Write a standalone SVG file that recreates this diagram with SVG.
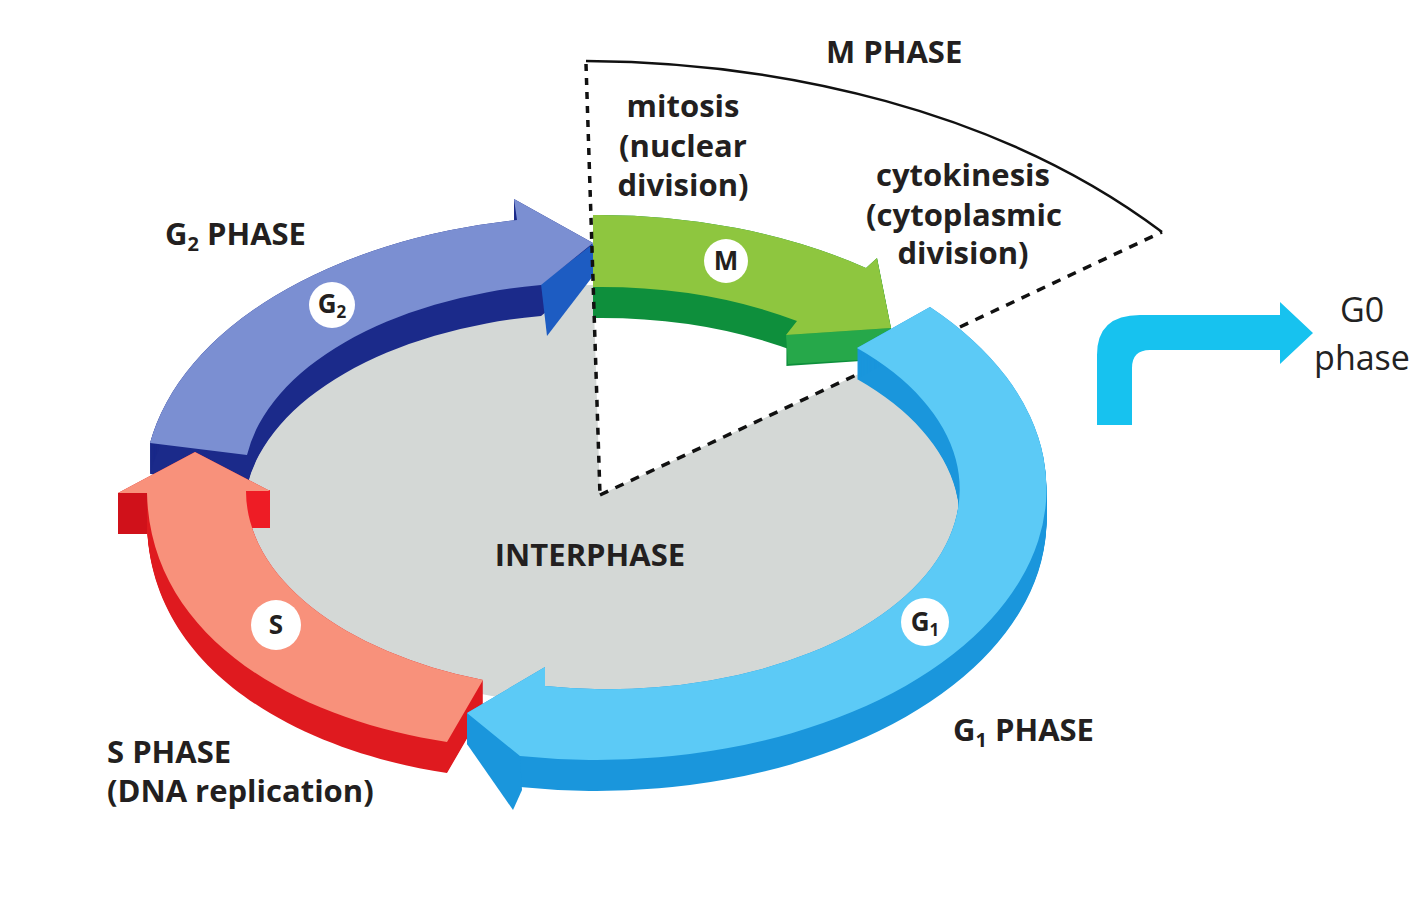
<svg xmlns="http://www.w3.org/2000/svg" width="1428" height="906" viewBox="0 0 1428 906">
<style>
.lbl{font-family:"Open Sans","Liberation Sans",sans-serif;font-weight:700;font-size:31px;fill:#231f20}
.mid{text-anchor:middle}
.badge{fill:#fff}
.btxt{font-family:"Open Sans","Liberation Sans",sans-serif;font-weight:700;font-size:26px;fill:#231f20;text-anchor:middle}
.g0t{font-family:"Open Sans","Liberation Sans",sans-serif;font-size:34px;fill:#222;text-anchor:middle}
.dash{fill:none;stroke:#111;stroke-width:3.5}
</style>
<defs>
<path id="g2p" d="M150,443 A450,271 0 0 1 517,220 L514,199 L593,243 L541,285 A352,200 0 0 0 247,455 Z"/>
<path id="mp" d="M593,215 A450,271 0 0 1 866,268 L877,258 L891,328 L786,335 L797,321 A352,200 0 0 0 593,287 Z"/>
<path id="sp" d="M195,452 L270,491 L246,491 A352,200 0 0 0 483,680 L447,742 C300,720 150,640 147,493 L118,493 Z"/>
<path id="g1p" d="M930,307 A450,271 0 0 1 520,756 L467,713 L545,667 L545,686 A352,200 0 0 0 857,348 Z"/>
<g id="g2e1"><use href="#g2p"/><use href="#g2p" y="1"/></g>
<g id="g2e2"><use href="#g2e1"/><use href="#g2e1" y="2"/></g>
<g id="g2e4"><use href="#g2e2"/><use href="#g2e2" y="4"/></g>
<g id="g2e8"><use href="#g2e4"/><use href="#g2e4" y="8"/></g>
<g id="g2e16"><use href="#g2e8"/><use href="#g2e8" y="16"/></g>
<g id="me1"><use href="#mp"/><use href="#mp" y="1"/></g>
<g id="me2"><use href="#me1"/><use href="#me1" y="2"/></g>
<g id="me4"><use href="#me2"/><use href="#me2" y="4"/></g>
<g id="me8"><use href="#me4"/><use href="#me4" y="8"/></g>
<g id="me16"><use href="#me8"/><use href="#me8" y="16"/></g>
<g id="se1"><use href="#sp"/><use href="#sp" y="1"/></g>
<g id="se2"><use href="#se1"/><use href="#se1" y="2"/></g>
<g id="se4"><use href="#se2"/><use href="#se2" y="4"/></g>
<g id="se8"><use href="#se4"/><use href="#se4" y="8"/></g>
<g id="se16"><use href="#se8"/><use href="#se8" y="16"/></g>
<g id="g1e1"><use href="#g1p"/><use href="#g1p" y="1"/></g>
<g id="g1e2"><use href="#g1e1"/><use href="#g1e1" y="2"/></g>
<g id="g1e4"><use href="#g1e2"/><use href="#g1e2" y="4"/></g>
<g id="g1e8"><use href="#g1e4"/><use href="#g1e4" y="8"/></g>
<g id="g1e16"><use href="#g1e8"/><use href="#g1e8" y="16"/></g>
</defs>
<rect width="1428" height="906" fill="#fff"/>
<g id="interphase">
<ellipse cx="597" cy="495" rx="362" ry="210" fill="#d4d8d6"/>
<polygon points="600,495 586,62 1162,232" fill="#fff"/>
<text class="lbl mid" x="590" y="566">INTERPHASE</text>
</g>
<g id="g2-arrow">
<use href="#g2e16" fill="#1b2a8a"/>
<polygon points="541,284 593,244 593,276 547,336" fill="#1d5cc2"/>
<use href="#g2p" fill="#7b8fd2"/>
<circle class="badge" cx="332" cy="305" r="23"/>
<text class="btxt" x="332" y="313">G<tspan font-size="17" dy="5">2</tspan></text>
</g>
<g id="m-arrow">
<use href="#me16" fill="#0e8f3c"/>
<polygon points="786,335 891,328 891,358 788,364" fill="#26a84a"/>
<use href="#mp" fill="#8ec63f"/>
<circle class="badge" cx="726" cy="261" r="22"/>
<text class="btxt" x="726" y="270">M</text>
</g>
<g id="s-arrow">
<use href="#se16" fill="#df1a1f"/>
<rect x="118" y="493" width="29" height="41" fill="#d0111a"/>
<rect x="245" y="490" width="25" height="38" fill="#ee1c25"/>
<use href="#sp" fill="#f8917b"/>
<circle class="badge" cx="276" cy="625" r="25"/>
<text class="btxt" x="276" y="634">S</text>
</g>
<g id="g1-arrow">
<use href="#g1e16" fill="#1a96dc"/>
<polygon points="467,713 520,756 522,790 513,810 467,744" fill="#1a96dc"/>
<use href="#g1p" fill="#5ccaf6"/>
<circle class="badge" cx="925" cy="622" r="24"/>
<text class="btxt" x="925" y="631">G<tspan font-size="17" dy="5">1</tspan></text>
</g>
<g id="g0-arrow">
<path d="M1097,425 L1097,355 Q1097,315 1140,315 L1280,315 L1280,302 L1313,333 L1280,364 L1280,350 L1150,350 Q1132,350 1132,368 L1132,425 Z" fill="#17c2ef"/>
<text class="g0t" x="1362" y="322">G0</text>
<text class="g0t" x="1362" y="370">phase</text>
</g>
<g id="labels">
<text class="lbl" x="826" y="63">M PHASE</text>
<text class="lbl mid" x="683" y="117">mitosis</text>
<text class="lbl mid" x="683" y="157">(nuclear</text>
<text class="lbl mid" x="683" y="196">division)</text>
<text class="lbl mid" x="963" y="186">cytokinesis</text>
<text class="lbl mid" x="964" y="226">(cytoplasmic</text>
<text class="lbl mid" x="963" y="264">division)</text>
<text class="lbl" x="165" y="245">G<tspan font-size="20" dy="6">2</tspan><tspan dy="-6"> PHASE</tspan></text>
<text class="lbl" x="107" y="763">S PHASE</text>
<text class="lbl" x="107" y="802">(DNA replication)</text>
<text class="lbl" x="953" y="741">G<tspan font-size="20" dy="6">1</tspan><tspan dy="-6"> PHASE</tspan></text>
</g>
<g id="connectors">
<path d="M586,61 C780,62 1000,110 1162,232" fill="none" stroke="#111" stroke-width="2.5"/>
<line class="dash" x1="586" y1="64" x2="600" y2="495" stroke-dasharray="7 7"/>
<line class="dash" x1="600" y1="495" x2="856" y2="375" stroke-dasharray="9 8"/>
<line class="dash" x1="960" y1="327" x2="1162" y2="232" stroke-dasharray="9 8"/>
</g>
</svg>
